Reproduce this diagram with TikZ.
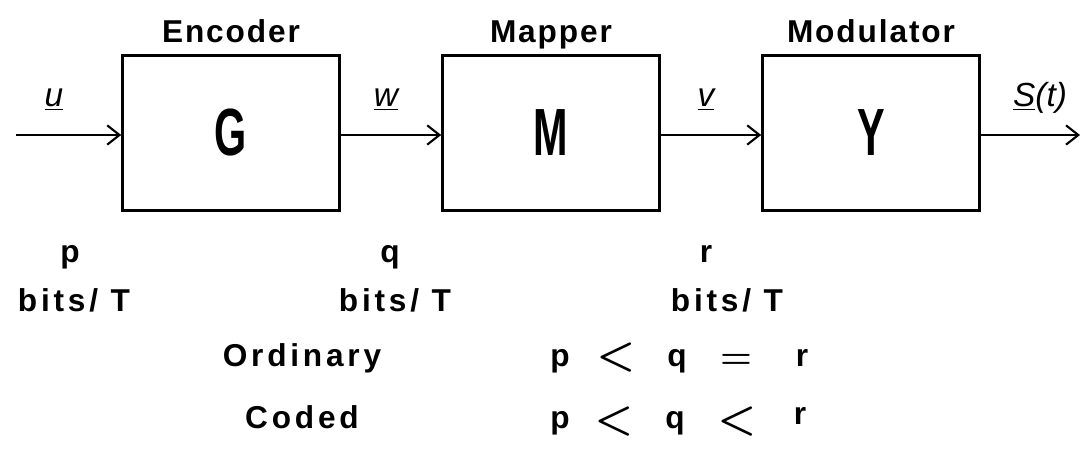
\documentclass[tikz,border=0pt]{standalone}
\usepackage{fontspec}
\setmainfont{Liberation Sans}
\newfontfamily\ttlfont{Liberation Sans}[LetterSpace=6]
\newfontfamily\lblfont{Liberation Sans}[LetterSpace=12]
\usetikzlibrary{arrows.meta,positioning}

\begin{document}
\begin{tikzpicture}[x=0.02cm,y=-0.02cm,
  blk/.style={draw, line width=1.5pt, minimum width=4.34cm, minimum height=3.1cm, inner sep=0pt},
  sym/.style={font=\fontsize{38}{40}\selectfont\bfseries, xscale=0.62},
  title/.style={font=\ttlfont\fontsize{18}{20}\selectfont\bfseries, anchor=base},
  rate/.style={font=\lblfont\fontsize{18}{20}\selectfont\bfseries, anchor=base},
  sig/.style={font=\fontsize{19}{21}\selectfont\itshape, anchor=base},
  rel/.style={font=\fontsize{25}{27}\selectfont\boldmath, anchor=base},
  arr/.style={-{Straight Barb[length=7pt,width=11pt,line width=1.2pt]}, line width=1.5pt}]

  \useasboundingbox (0,0) rectangle (1082,456);

  % blocks
  \node[blk] (enc) at (231,133) {};
  \node[blk] (map) at (551,133) {};
  \node[blk] (mod) at (871,133) {};

  \node[sym] (G) at (enc.center) {G};
  \node[sym] (M) at (map.center) {M};
  \node[sym] (Y) at (mod.center) {Y};

  \node[title] (tenc) at (231,43) {Encoder};
  \node[title] (tmap) at (551,43) {Mapper};
  \node[title] (tmod) at (871,43) {Modulator};

  % signal path
  \coordinate (src) at (16,135);
  \coordinate (snk) at (1080,135);
  \draw[arr] (src) -- (src -| enc.west);
  \draw[arr] (enc.east |- src) -- (map.west |- src);
  \draw[arr] (map.east |- src) -- (mod.west |- src);
  \draw[arr] (mod.east |- src) -- (snk);

  \node[sig] (lu) at (54,107) {\underline{u}};
  \node[sig] (lw) at (386,107) {\underline{w}};
  \node[sig] (lv) at (706,107) {\underline{v}};
  \node[sig] (ls) at (1040,107) {\underline{S}(t)};

  % rates
  \node[rate] (rp) at (70,262) {p};
  \node[rate] (rq) at (390,262) {q};
  \node[rate] (rr) at (706,262) {r};
  \node[rate] (bp) at (74,311) {bits/ T};
  \node[rate] (bq) at (395,311) {bits/ T};
  \node[rate] (br) at (727,311) {bits/ T};

  % comparisons
  \node[rate] (ord) at (302,366) {Ordinary};
  \node[rate] (cod) at (302,428) {Coded};

  \node[rate] (op) at (560,366) {p};
  \node[rel]  (ol) at (616,368) {$<$};
  \node[rate] (oq) at (677,366) {q};
  \node[rel]  (oe) at (736,368) {\fontsize{20}{22}\selectfont$=$};
  \node[rate] (or) at (802,366) {r};

  \node[rate] (cp) at (560,428) {p};
  \node[rel]  (cl) at (614,432) {$<$};
  \node[rate] (cq) at (675,428) {q};
  \node[rel]  (cl2) at (737,432) {$<$};
  \node[rate] (cr) at (800,424) {r};
\end{tikzpicture}
\end{document}
